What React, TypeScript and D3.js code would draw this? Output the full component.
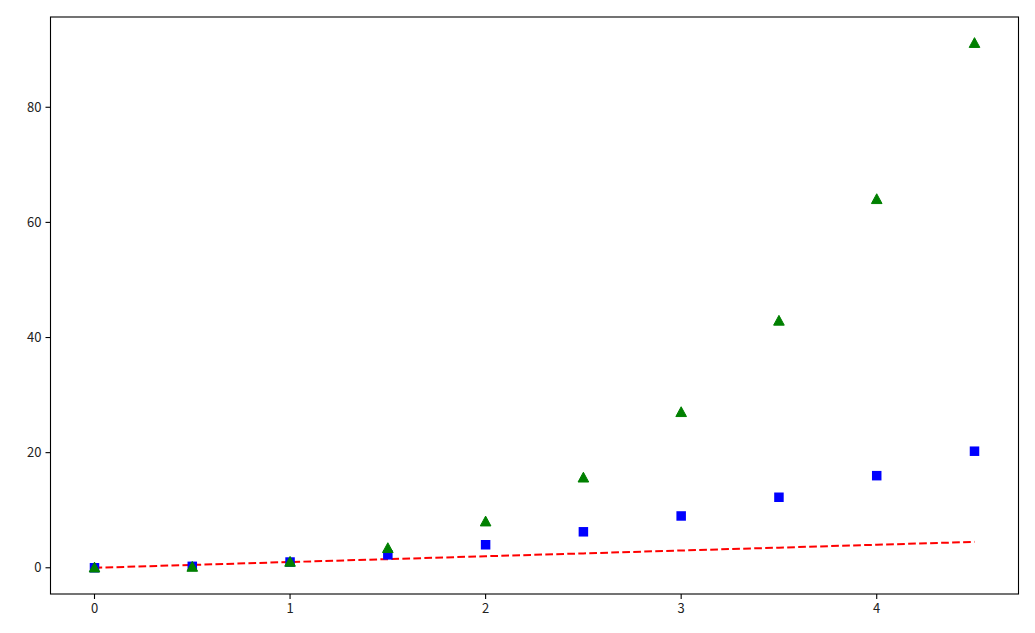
import React from "react";
import * as d3 from "d3";

const tValues = [0, 0.5, 1, 1.5, 2, 2.5, 3, 3.5, 4, 4.5];
const linearValues = [0, 0.5, 1, 1.5, 2, 2.5, 3, 3.5, 4, 4.5];
const squareValues = [0, 0.25, 1, 2.25, 4, 6.25, 9, 12.25, 16, 20.25];
const cubeValues = [0, 0.125, 1, 3.375, 8, 15.625, 27, 42.875, 64, 91.125];
const xTicks = [0, 1, 2, 3, 4];
const yTicks = [0, 20, 40, 60, 80];

const W = 1035;
const H = 633;
const left = 50.5;
const right = 1018.5;
const top = 17;
const bottom = 594;

export default function App() {
  const x = d3.scaleLinear().domain([-0.225, 4.725]).range([left, right]);
  const y = d3.scaleLinear().domain([-4.556, 95.681]).range([bottom, top]);
  const line = d3
    .line<number>()
    .x((_, i) => x(tValues[i]))
    .y((d) => y(d));
  const font = "'Noto Sans CJK SC', 'Noto Sans', sans-serif";
  const sq = 9.5;
  const tri = (cx: number, cy: number) => {
    const r = 5.6;
    return `M${cx},${cy - r} L${cx + r * 0.95},${cy + r * 0.75} L${cx - r * 0.95},${cy + r * 0.75} Z`;
  };
  return (
    <svg
      width={W}
      height={H}
      style={{ position: "absolute", left: 0, top: 0, background: "#fff" }}
    >
      <rect x={0} y={0} width={W} height={H} fill="#fff" />
      <path
        d={line(linearValues) || ""}
        fill="none"
        stroke="#ff0000"
        strokeWidth={2}
        strokeDasharray="7.7,3.3"
      />
      {squareValues.map((v, i) => (
        <rect
          key={"s" + i}
          x={x(tValues[i]) - sq / 2}
          y={y(v) - sq / 2}
          width={sq}
          height={sq}
          fill="#0000ff"
        />
      ))}
      {cubeValues.map((v, i) => (
        <path key={"t" + i} d={tri(x(tValues[i]), y(v))} fill="#008000" stroke="#008000" strokeWidth={1} strokeLinejoin="miter" />
      ))}
      <rect
        x={left}
        y={top}
        width={right - left}
        height={bottom - top}
        fill="none"
        stroke="#000"
        strokeWidth={1.1}
      />
      {xTicks.map((t) => (
        <g key={"xt" + t}>
          <line x1={x(t)} x2={x(t)} y1={bottom} y2={bottom + 5} stroke="#000" strokeWidth={1.1} />
          <text
            x={x(t)}
            y={bottom + 19}
            textAnchor="middle"
            fontFamily={font}
            fontSize={13}
            fill="#222"
          >
            {t}
          </text>
        </g>
      ))}
      {yTicks.map((t) => (
        <g key={"yt" + t}>
          <line x1={left - 5} x2={left} y1={y(t)} y2={y(t)} stroke="#000" strokeWidth={1.1} />
          <text
            x={left - 9}
            y={y(t)}
            dy="0.35em"
            textAnchor="end"
            fontFamily={font}
            fontSize={13}
            fill="#222"
          >
            {t}
          </text>
        </g>
      ))}
    </svg>
  );
}
